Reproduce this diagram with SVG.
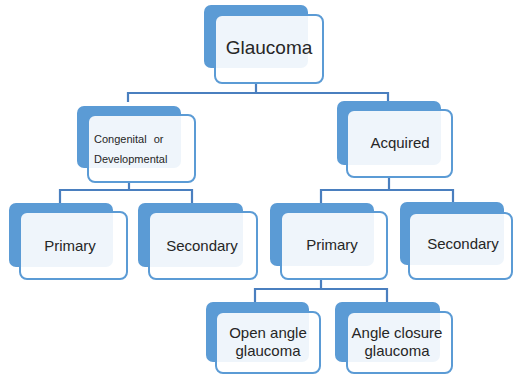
<svg xmlns="http://www.w3.org/2000/svg" width="514" height="376" viewBox="0 0 514 376">
<style>
.back{fill:#5b9bd5;}
.front{fill:#ffffff;fill-opacity:0.9;stroke:#5b9bd5;stroke-width:2;}
.t{font-family:"Liberation Sans",Arial,sans-serif;fill:#262626;text-anchor:middle;font-size:15px;}
.conn{fill:none;stroke:#4a7fbf;stroke-width:2.2;}
</style>
<rect width="514" height="376" fill="#ffffff"/>
<g id="connectors">
<polyline class="conn" points="256,83 256,93"/>
<polyline class="conn" points="128,102 128,93 388,93 388,101"/>
<polyline class="conn" points="129,182 129,190"/>
<polyline class="conn" points="60,203 60,190 192,190 192,203"/>
<polyline class="conn" points="389,177 389,190"/>
<polyline class="conn" points="321,203 321,190 453,190 453,202"/>
<polyline class="conn" points="321,279 321,289"/>
<polyline class="conn" points="255,302 255,289 387,289 387,302"/>
</g>
<g id="glaucoma">
<rect class="back" x="204" y="5" width="104" height="63" rx="7"/>
<rect class="front" x="215" y="15" width="108" height="68" rx="7"/>
<text class="t" x="269" y="54" style="font-size:19px">Glaucoma</text>
</g>
<g id="congenital">
<rect class="back" x="77" y="106" width="104" height="62" rx="7"/>
<rect class="front" x="88" y="115" width="107" height="67" rx="7"/>
<text class="t" x="94" y="143" style="font-size:11px;text-anchor:start;word-spacing:4px">Congenital or</text>
<text class="t" x="94" y="163" style="font-size:11px;text-anchor:start">Developmental</text>
</g>
<g id="acquired">
<rect class="back" x="337" y="101" width="104" height="64" rx="7"/>
<rect class="front" x="347" y="110" width="105" height="67" rx="7"/>
<text class="t" x="400" y="148">Acquired</text>
</g>
<g id="primary-left">
<rect class="back" x="9" y="203" width="104" height="64" rx="7"/>
<rect class="front" x="20" y="212" width="107" height="67" rx="7"/>
<text class="t" x="70" y="251">Primary</text>
</g>
<g id="secondary-left">
<rect class="back" x="138" y="203" width="105" height="64" rx="7"/>
<rect class="front" x="149" y="212" width="108" height="67" rx="7"/>
<text class="t" x="202" y="251">Secondary</text>
</g>
<g id="primary-right">
<rect class="back" x="270" y="203" width="104" height="63" rx="7"/>
<rect class="front" x="281" y="212" width="106" height="67" rx="7"/>
<text class="t" x="332" y="250">Primary</text>
</g>
<g id="secondary-right">
<rect class="back" x="400" y="202" width="104" height="63" rx="7"/>
<rect class="front" x="409" y="213" width="103" height="66" rx="7"/>
<text class="t" x="463" y="249">Secondary</text>
</g>
<g id="open-angle">
<rect class="back" x="206" y="302" width="103" height="60" rx="7"/>
<rect class="front" x="216" y="312" width="104" height="61" rx="7"/>
<text class="t" x="268" y="338">Open angle</text>
<text class="t" x="268" y="356">glaucoma</text>
</g>
<g id="angle-closure">
<rect class="back" x="335" y="302" width="105" height="60" rx="7"/>
<rect class="front" x="347" y="312" width="105" height="61" rx="7"/>
<text class="t" x="397" y="338">Angle closure</text>
<text class="t" x="397" y="356">glaucoma</text>
</g>
</svg>
